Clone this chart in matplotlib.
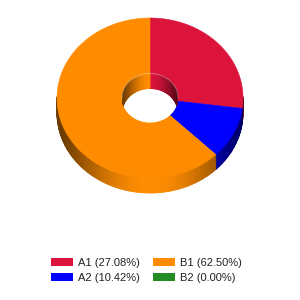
import numpy as np
import matplotlib
matplotlib.use("Agg")
import matplotlib.pyplot as plt
from matplotlib.patches import Polygon, Patch
from matplotlib.colors import to_rgb

# chart data
labels = ["A1", "A2", "B1", "B2"]
values = [27.08, 10.42, 62.50, 0.00]
colors = ["#DC143C", "#0000FF", "#FF8C00", "#228B22"]

# geometry in pixels (y grows downward)
cx, cy = 150, 98
rx, ry = 93, 80
irx, iry = 28, 24.5
depth = 15

plt.rcParams["font.family"] = ["Liberation Sans", "DejaVu Sans"]

fig = plt.figure(figsize=(3, 3), dpi=100)
ax = fig.add_axes([0, 0, 1, 1])
ax.set_xlim(0, 300)
ax.set_ylim(300, 0)
ax.axis("off")


def pt(a, sx, sy, dy=0.0):
    t = np.radians(a)
    return cx + sx * np.cos(t), cy - sy * np.sin(t) + dy


def shade(col, a):
    k = 0.42 + 0.58 * abs(np.sin(np.radians(a))) ** 3
    r, g, b = to_rgb(col)
    return (r * k, g * k, b * k)


total = sum(values)
starts, ends = [], []
a = 90.0
for v in values:
    starts.append(a)
    a -= 360.0 * v / total
    ends.append(a)

# outer side wall, only the front half shows
for s, e, c in zip(starts, ends, colors):
    if s == e:
        continue
    steps = np.append(np.arange(s, e, -1.0), e)
    for a0, a1 in zip(steps[:-1], steps[1:]):
        mid = (a0 + a1) / 2
        if np.sin(np.radians(mid)) > 0.02:
            continue
        p0 = pt(a0, rx, ry)
        p1 = pt(a1, rx, ry)
        quad = [p0, p1, (p1[0], p1[1] + depth), (p0[0], p0[1] + depth)]
        fc = shade(c, mid)
        ax.add_patch(Polygon(quad, closed=True, fc=fc, ec=fc, lw=0.6, zorder=1))

# top faces
for s, e, c in zip(starts, ends, colors):
    if s == e:
        continue
    ang = np.linspace(s, e, 200)
    outer = [pt(t, rx, ry) for t in ang]
    inner = [pt(t, irx, iry) for t in ang[::-1]]
    ax.add_patch(Polygon(outer + inner, closed=True, fc=c, ec=c, lw=0.4, zorder=2))

# inner wall seen through the hole (back half), clipped to the hole
hole = Polygon([pt(t, irx, iry) for t in np.linspace(0, 360, 200)], closed=True,
               fc="white", ec="none", zorder=3)
ax.add_patch(hole)
for s, e, c in zip(starts, ends, colors):
    if s == e:
        continue
    steps = np.append(np.arange(s, e, -1.0), e)
    for a0, a1 in zip(steps[:-1], steps[1:]):
        mid = (a0 + a1) / 2
        if np.sin(np.radians(mid)) < -0.02:
            continue
        p0 = pt(a0, irx, iry)
        p1 = pt(a1, irx, iry)
        quad = [p0, p1, (p1[0], p1[1] + depth), (p0[0], p0[1] + depth)]
        fc = shade(c, mid)
        w = Polygon(quad, closed=True, fc=fc, ec=fc, lw=0.6, zorder=4)
        ax.add_patch(w)
        w.set_clip_path(hole)

# faint highlight along the back rim of the hole
rim = np.linspace(0, 180, 100)
ax.plot(*zip(*[pt(t, irx, iry) for t in rim]), color="white", alpha=0.35, lw=0.6, zorder=5)

handles = [Patch(fc=c, ec="none") for c in colors]
legend_labels = ["%s (%.2f%%)" % (l, v) for l, v in zip(labels, values)]
ax.legend(handles, legend_labels, ncol=2, loc="upper left",
          bbox_to_anchor=(51, 257.5), bbox_transform=ax.transData,
          frameon=False, fontsize=8, handlelength=2.0, handleheight=0.8,
          handletextpad=0.45, columnspacing=1.15, labelspacing=0.45,
          borderpad=0, borderaxespad=0, labelcolor="#222222")

fig.savefig("out.png", dpi=100)
